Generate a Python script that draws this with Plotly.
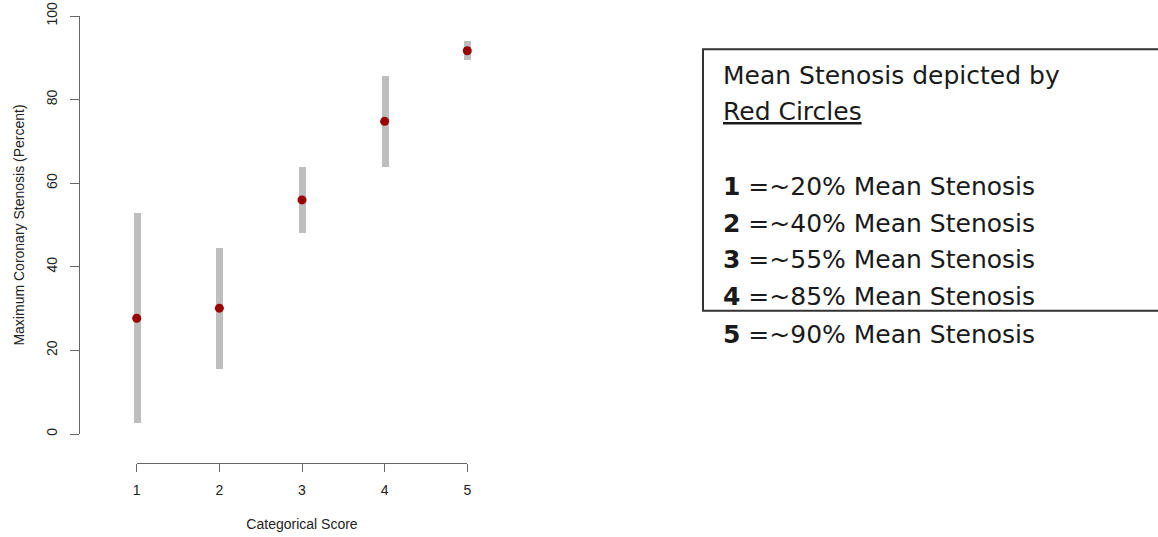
import plotly.graph_objects as go

# Categorical score groups and maximum coronary stenosis summaries (percent)
scores = [1, 2, 3, 4, 5]
means = [27.7, 30.1, 56.0, 74.8, 91.7]
lows = [2.7, 15.6, 48.0, 63.8, 89.5]
highs = [52.8, 44.4, 63.9, 85.7, 94.0]

y_ticks = [0, 20, 40, 60, 80, 100]

legend_title = ["Mean Stenosis depicted by", "<u>Red Circles</u>"]
legend_pct = ["~20%", "~40%", "~55%", "~85%", "~90%"]

W, H = 1158, 537
AX_FONT = "Liberation Sans, Arial, Helvetica, sans-serif"
NOTE_FONT = "DejaVu Sans, sans-serif"

def px_x(p):
    return p / W

def px_y(p):
    return 1 - p / H

fig = go.Figure()

# range bars (low to high)
fig.add_trace(go.Bar(
    x=scores,
    base=lows,
    y=[h - l for h, l in zip(highs, lows)],
    width=0.085,
    marker=dict(color="#BEBEBE", line=dict(width=0)),
    showlegend=False,
    hoverinfo="skip",
))

# means
fig.add_trace(go.Scatter(
    x=scores, y=means, mode="markers",
    marker=dict(color="#990000", size=9, line=dict(width=0)),
    showlegend=False, cliponaxis=False,
))

# helper trace that carries the R-style detached axes
fig.add_trace(go.Scatter(
    x=[scores[0], scores[-1]], y=[y_ticks[0], y_ticks[-1]],
    xaxis="x2", yaxis="y2", mode="markers",
    marker=dict(opacity=0), showlegend=False, hoverinfo="skip",
))

axis_common = dict(showgrid=False, zeroline=False, fixedrange=True, automargin=False)

fig.update_layout(
    width=W, height=H,
    margin=dict(l=0, r=0, t=0, b=0, pad=0),
    paper_bgcolor="white", plot_bgcolor="rgba(0,0,0,0)",
    bargap=0,
    xaxis=dict(domain=[px_x(123.5), px_x(480.5)], range=[0.84, 5.16],
               visible=False, **axis_common),
    yaxis=dict(domain=[px_y(451), 1.0], range=[-4.07, 103.83],
               visible=False, **axis_common),
    xaxis2=dict(domain=[px_x(136.7), px_x(467.3)], range=[1, 5],
                anchor="free", position=px_y(463.3),
                tickvals=scores, ticktext=[str(s) for s in scores],
                ticks="outside", ticklen=8, tickwidth=1, tickcolor="#666",
                ticklabelstandoff=6,
                showline=True, linecolor="#666", linewidth=1,
                tickfont=dict(family=AX_FONT, size=14, color="#222"),
                title=dict(text="Categorical Score", standoff=22,
                           font=dict(family=AX_FONT, size=14, color="#222")),
                **axis_common),
    yaxis2=dict(domain=[px_y(434), px_y(16)], range=[0, 100],
                anchor="free", position=px_x(79),
                tickvals=y_ticks, ticktext=[str(v) for v in y_ticks],
                tickangle=-90,
                ticks="outside", ticklen=9, tickwidth=1, tickcolor="#666",
                ticklabelstandoff=7,
                showline=True, linecolor="#666", linewidth=1,
                tickfont=dict(family=AX_FONT, size=14, color="#222"),
                title=dict(text="Maximum Coronary Stenosis (Percent)", standoff=15,
                           font=dict(family=AX_FONT, size=14, color="#222")),
                **axis_common),
)

# note box
fig.add_shape(type="rect", xref="paper", yref="paper",
              x0=px_x(703), x1=1.05, y0=px_y(310.7), y1=px_y(49.3),
              line=dict(color="#333", width=2), fillcolor="rgba(0,0,0,0)")

note_lines = legend_title + [""] + [
    f"<b>{s}</b> =~{p[1:]} Mean Stenosis" for s, p in zip(scores, legend_pct)
]
line_y = [75, 111.7, 149, 186.7, 223.3, 260, 296.7, 334]
for txt, yy in zip(note_lines, line_y):
    if not txt:
        continue
    fig.add_annotation(
        xref="paper", yref="paper", x=px_x(721), y=px_y(yy),
        xanchor="left", yanchor="middle", showarrow=False, text=txt,
        font=dict(family=NOTE_FONT, size=25, color="#1a1a1a"),
    )

fig.write_html("out.html")
